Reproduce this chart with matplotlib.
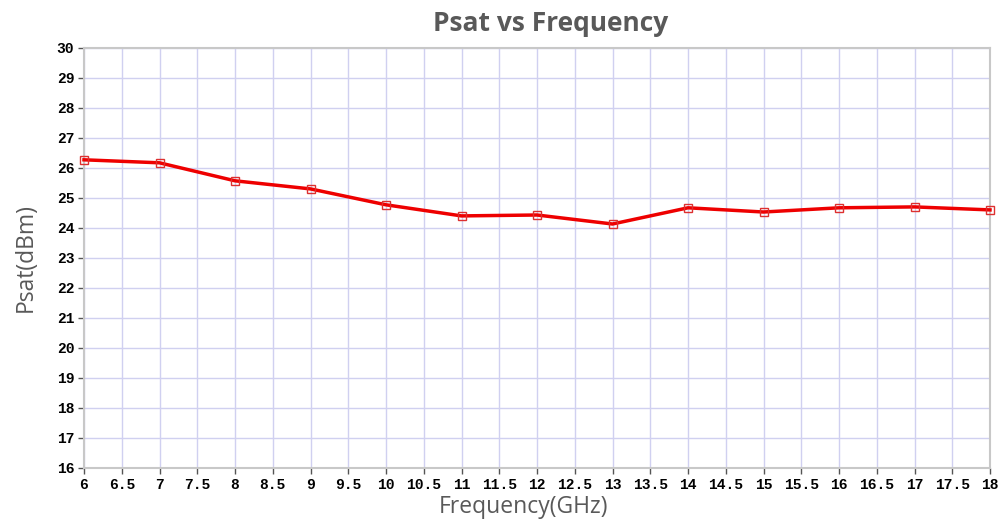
import numpy as np
import matplotlib.pyplot as plt

# Psat measured at each frequency point
freq = [6, 7, 8, 9, 10, 11, 12, 13, 14, 15, 16, 17, 18]
psat = [26.27, 26.17, 25.57, 25.30, 24.77, 24.40, 24.43, 24.13, 24.67, 24.53, 24.67, 24.70, 24.60]

xticks = np.arange(6, 18.01, 0.5)
yticks = np.arange(16, 30.01, 1)
xlabels = ['%g' % v for v in xticks]

fig = plt.figure(figsize=(10, 5.21), dpi=100)
ax = fig.add_axes([0.084, 0.102, 0.906, 0.806])

ax.plot(freq, psat, color='#ee0000', lw=2.5, marker='s', ms=6,
        mfc='none', mec='#dd3030', mew=1.0, clip_on=False, zorder=3)

ax.set_xlim(6, 18)
ax.set_ylim(16, 30)
ax.set_xticks(xticks)
ax.set_xticklabels(xlabels)
ax.set_yticks(yticks)
ax.grid(True, color='#d0d0f0', lw=1.0)
for s in ax.spines.values():
    s.set_color('#c8c8c8')
    s.set_linewidth(1.5)
ax.tick_params(direction='out', length=4, width=1, color='#555555', pad=3)
for lab in ax.get_xticklabels() + ax.get_yticklabels():
    lab.set_family('Liberation Mono')
    lab.set_fontweight('bold')
    lab.set_fontsize(10.5)

fig.text(0.551, 0.955, 'Psat vs Frequency', fontsize=19, fontweight='bold',
         color='#595959', family='Open Sans', ha='center', va='center')
ax.set_xlabel('Frequency(GHz)', fontsize=16.5, color='#595959', family='Open Sans')
ax.xaxis.set_label_coords(0.485, -0.065)
ax.set_ylabel('Psat(dBm)', fontsize=16.5, color='#595959', family='Open Sans')
ax.yaxis.set_label_coords(-0.051, 0.5)

fig.savefig('out.png')
